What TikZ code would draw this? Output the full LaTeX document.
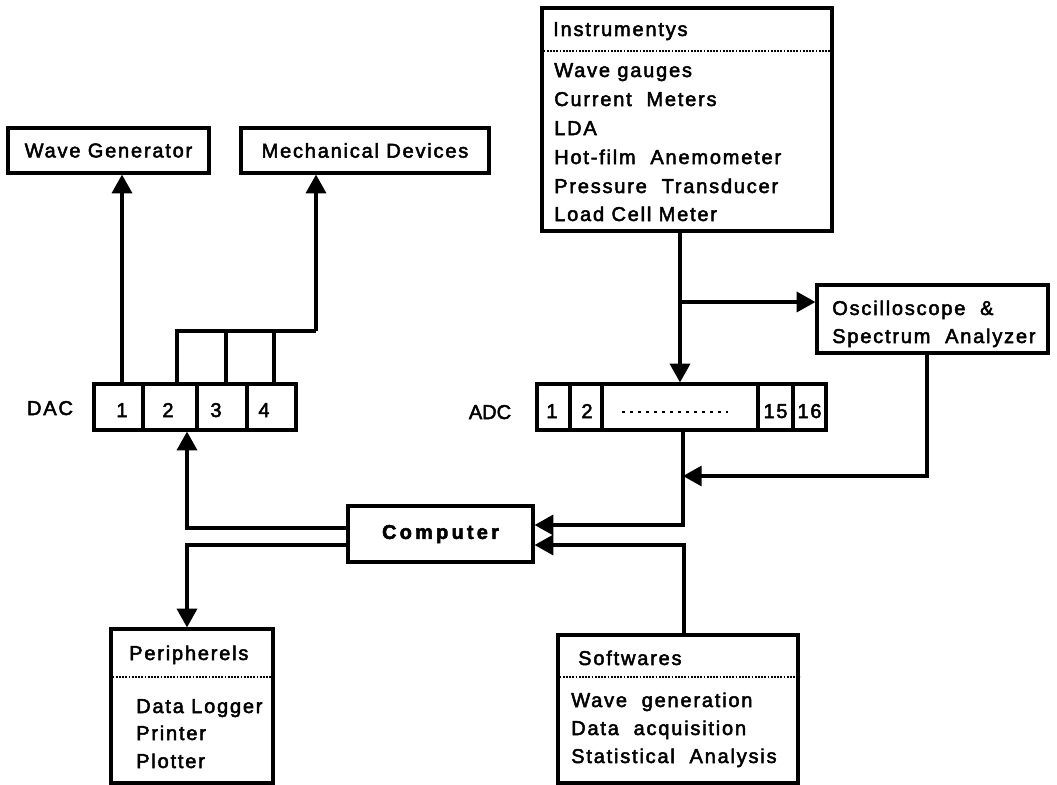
\documentclass[tikz,border=0pt]{standalone}
\usepackage{fontspec}
\setmainfont{Liberation Sans}[LetterSpace=9,FakeBold=2.5]
\usetikzlibrary{arrows.meta,calc}
\newcommand\pxu[1]{#1*0.75pt}
\begin{document}
\begin{tikzpicture}[x=0.75pt,y=-0.75pt,
  lw/.style={line width=2.4pt},
  every node/.style={font=\fontsize{15}{18}\selectfont},
  box/.style={draw,lw,inner sep=0pt},
  cell/.style={draw,line width=2.4pt,inner sep=0pt,minimum height=\pxu{46}},
  txt/.style={inner sep=0pt,anchor=base west},
  conn/.style={lw},
  arr/.style={lw,-{Triangle[length=14pt,width=15pt]}},
  sep/.style={line width=1.4pt,densely dotted}]
\useasboundingbox (0,0) rectangle (1057,785);

% top boxes
\node[box,minimum width=\pxu{201},minimum height=\pxu{45}] (wg) at (108.5,150.5) {Wave Generator};
\node[box,minimum width=\pxu{248},minimum height=\pxu{45}] (md) at (365,150.5) {Mechanical Devices};

% DAC
\node[inner sep=0pt,anchor=base] (daclbl) at (50,415) {DAC};
\node[cell,minimum width=\pxu{49}] (c1) at (118.5,407) {};
\node[cell,minimum width=\pxu{54}] (c2) at (170,407) {};
\node[cell,minimum width=\pxu{50}] (c3) at (222,407) {};
\node[cell,minimum width=\pxu{49}] (c4) at (271.5,407) {};
\node[inner sep=0pt,anchor=base] (n1) at (122,417) {1};
\node[inner sep=0pt,anchor=base] (n2) at (168,417) {2};
\node[inner sep=0pt,anchor=base] (n3) at (216,417) {3};
\node[inner sep=0pt,anchor=base] (n4) at (264,417) {4};

% Instruments
\node[box,minimum width=\pxu{290},minimum height=\pxu{223}] (inst) at (687,119.5) {};
\node[txt] (it) at (553,36) {Instrumentys};
\draw[sep] (inst.west |- 0,51) -- (inst.east |- 0,51);
\node[txt] (i1) at (554,77) {Wave gauges};
\node[txt] (i2) at (554,106) {Current\ \ Meters};
\node[txt] (i3) at (554,135) {LDA};
\node[txt] (i4) at (554,164) {Hot-film\ \ Anemometer};
\node[txt] (i5) at (554,193) {Pressure\ \ Transducer};
\node[txt] (i6) at (554,221) {Load Cell Meter};

% Oscilloscope
\node[box,minimum width=\pxu{231},minimum height=\pxu{68}] (osc) at (932.5,319) {};
\node[txt] (o1) at (832,315) {Oscilloscope \ \&};
\node[txt] (o2) at (832,343) {Spectrum\ \ Analyzer};

% ADC
\node[inner sep=0pt,anchor=base,font=\fontsize{15}{18}\selectfont\addfontfeatures{LetterSpace=0}] (adclbl) at (490,419) {ADC};
\node[cell,minimum width=\pxu{33}] (a1) at (553.5,407) {};
\node[cell,minimum width=\pxu{32}] (a2) at (586,407) {};
\node[cell,minimum width=\pxu{156}] (adots) at (680,407) {};
\node[cell,minimum width=\pxu{35}] (a15) at (775.5,407) {};
\node[cell,minimum width=\pxu{33}] (a16) at (809.5,407) {};
\node[inner sep=0pt,anchor=base] (m1) at (552,418) {1};
\node[inner sep=0pt,anchor=base] (m2) at (587,418) {2};
\draw[line width=2pt,dash pattern=on 2pt off 4pt] (622,412) -- (728,412);
\node[inner sep=0pt,anchor=base] (m15) at (775.5,418) {15};
\node[inner sep=0pt,anchor=base] (m16) at (809.5,418) {16};

% Computer
\node[box,minimum width=\pxu{185},minimum height=\pxu{56},font=\fontsize{15}{18}\selectfont\bfseries\addfontfeatures{LetterSpace=16}] (comp) at (440.5,534) {Computer};

% Peripherels
\node[box,minimum width=\pxu{162},minimum height=\pxu{154}] (peri) at (192,706) {};
\node[txt] (pt) at (129,660) {Peripherels};
\draw[sep] (peri.west |- 0,677) -- (peri.east |- 0,677);
\node[txt] (p1) at (136,713) {Data Logger};
\node[txt] (p2) at (136,740) {Printer};
\node[txt] (p3) at (136,768) {Plotter};

% Softwares
\node[box,minimum width=\pxu{240},minimum height=\pxu{148}] (soft) at (678,709) {};
\node[txt] (st) at (578,665) {Softwares};
\draw[sep] (soft.west |- 0,677) -- (soft.east |- 0,677);
\node[txt] (s1) at (571,707) {Wave\ \ generation};
\node[txt] (s2) at (571,735) {Data\ \ acquisition};
\node[txt] (s3) at (571,763) {Statistical\ \ Analysis};

% connectors DAC -> outputs
\draw[arr] ([xshift=\pxu{3.5}]c1.north) -- ([xshift=\pxu{3.5}]c1.north |- wg.south);
\coordinate (mj) at (316,331);
\draw[conn] ([xshift=\pxu{7}]c2.north) |- (mj);
\draw[conn] ([xshift=\pxu{4}]c3.north) -- ([xshift=\pxu{4}]c3.north |- mj);
\draw[conn] ([xshift=\pxu{2.5}]c4.north) -- ([xshift=\pxu{2.5}]c4.north |- mj);
\draw[arr] (mj) -- (mj |- md.south);

% Instruments -> ADC and oscilloscope
\draw[arr] ([xshift=\pxu{-7}]inst.south) -- (adots.north);
\coordinate (ij) at (680,302);
\draw[arr] (ij) -- (ij -| osc.west);

% oscilloscope -> ADC output line
\coordinate (aj) at (683,476);
\draw[arr] ([xshift=\pxu{-5.5}]osc.south) |- (aj);

% ADC -> computer
\draw[arr] ([xshift=\pxu{3}]adots.south) |- ($(comp.east)+(0,-9)$);
% softwares -> computer
\draw[arr] ([xshift=\pxu{6}]soft.north) |- ($(comp.east)+(0,11)$);
% computer -> DAC
\draw[arr] ($(comp.west)+(0,-6)$) -| ([xshift=\pxu{17}]c2.south);
% computer -> peripherals
\draw[arr] ($(comp.west)+(0,11)$) -| ([xshift=\pxu{-5}]peri.north);
\end{tikzpicture}
\end{document}
